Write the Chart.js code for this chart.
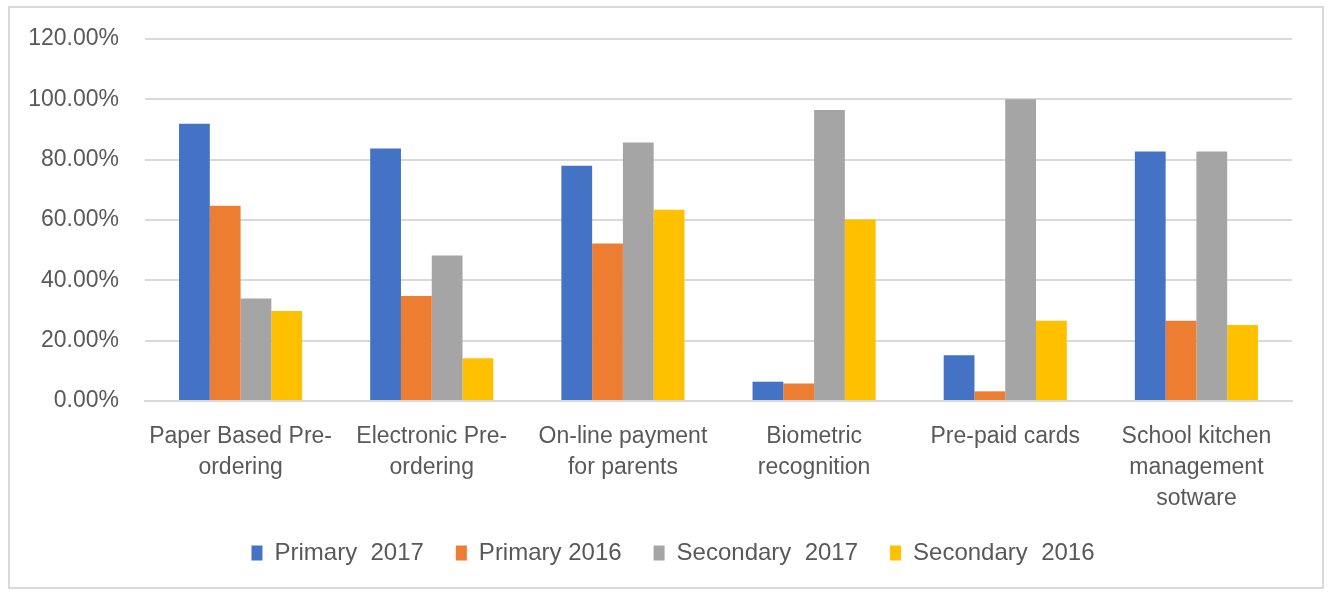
<!DOCTYPE html>
<html>
<head>
<meta charset="utf-8">
<script src="https://cdn.jsdelivr.net/npm/chart.js@4.4.0/dist/chart.umd.min.js"></script>
<style>
    body { margin: 0; background: #fff; }
    #frame {
        position: absolute; left: 8px; top: 6px;
        width: 1312px; height: 579px;
        border: 2px solid #d9d9d9;
    }
</style>
</head>
<body>
<div id="frame"><canvas id="chart" width="1312" height="579"></canvas></div>
<script>
// Chart data
const categories = [
    ['Paper Based Pre-', 'ordering'],
    ['Electronic Pre-', 'ordering'],
    ['On-line payment', 'for parents'],
    ['Biometric', 'recognition'],
    'Pre-paid cards',
    ['School kitchen', 'management', 'sotware']
];
const seriesNames = ['Primary  2017', 'Primary 2016', 'Secondary  2017', 'Secondary  2016'];
const primary2017 = [91.9, 83.7, 78.0, 6.4, 15.2, 82.7];
const primary2016 = [64.7, 34.8, 52.2, 5.8, 3.2, 26.6];
const secondary2017 = [34.0, 48.2, 85.7, 96.5, 100.0, 82.7];
const secondary2016 = [29.8, 14.2, 63.4, 60.2, 26.6, 25.2];
const yTicks = [0, 20, 40, 60, 80, 100, 120];

const colors = ['#4472C4', '#ED7D31', '#A5A5A5', '#FFC000'];
const values = [primary2017, primary2016, secondary2017, secondary2016];

const textColor = '#595959';
const fontFamily = "'Liberation Sans', Arial, sans-serif";
const legendPad = 32;
const legendFont = 24;

// put the legend row where the reference has it (x labels need the room above)
const legendNudge = {
    id: 'legendNudge',
    afterLayout(chart) {
        const l = chart.legend;
        const dy = (545 - legendPad - legendFont / 2) - l.top;
        const dx = 22;
        l.top += dy; l.bottom += dy;
        l.left += dx; l.right += dx;
    }
};

new Chart(document.getElementById('chart'), {
    type: 'bar',
    data: {
        labels: categories,
        datasets: values.map((v, i) => ({
            label: seriesNames[i],
            data: v,
            backgroundColor: colors[i],
            borderWidth: 0,
            categoryPercentage: 0.644,
            barPercentage: 1
        }))
    },
    options: {
        responsive: false,
        animation: false,
        layout: { padding: { top: 31, right: 30, left: 0, bottom: 8 } },
        plugins: {
            tooltip: { enabled: false },
            legend: {
                position: 'bottom',
                maxHeight: 70,
                labels: {
                    color: textColor,
                    font: { family: fontFamily, size: legendFont },
                    boxWidth: 11,
                    boxHeight: 15,
                    padding: legendPad
                }
            }
        },
        scales: {
            x: {
                grid: { display: false },
                border: { color: '#d9d9d9', width: 2 },
                ticks: {
                    color: textColor,
                    font: { family: fontFamily, size: 23, lineHeight: 1.35 },
                    padding: 12,
                    maxRotation: 0,
                    autoSkip: false
                },
                afterFit: s => { s.height = 112; }
            },
            y: {
                min: 0,
                max: 120,
                afterBuildTicks: s => { s.ticks = yTicks.map(v => ({ value: v })); },
                grid: { color: '#d9d9d9', lineWidth: 2, drawTicks: false },
                border: { display: false },
                ticks: {
                    color: textColor,
                    // small lineHeight keeps the top label from pushing the plot down
                    font: { family: fontFamily, size: 23, lineHeight: 0.2 },
                    padding: 26,
                    callback: v => v.toFixed(2) + '%'
                },
                afterFit: s => { s.width = 135; }
            }
        }
    },
    plugins: [legendNudge]
});
</script>
</body>
</html>
